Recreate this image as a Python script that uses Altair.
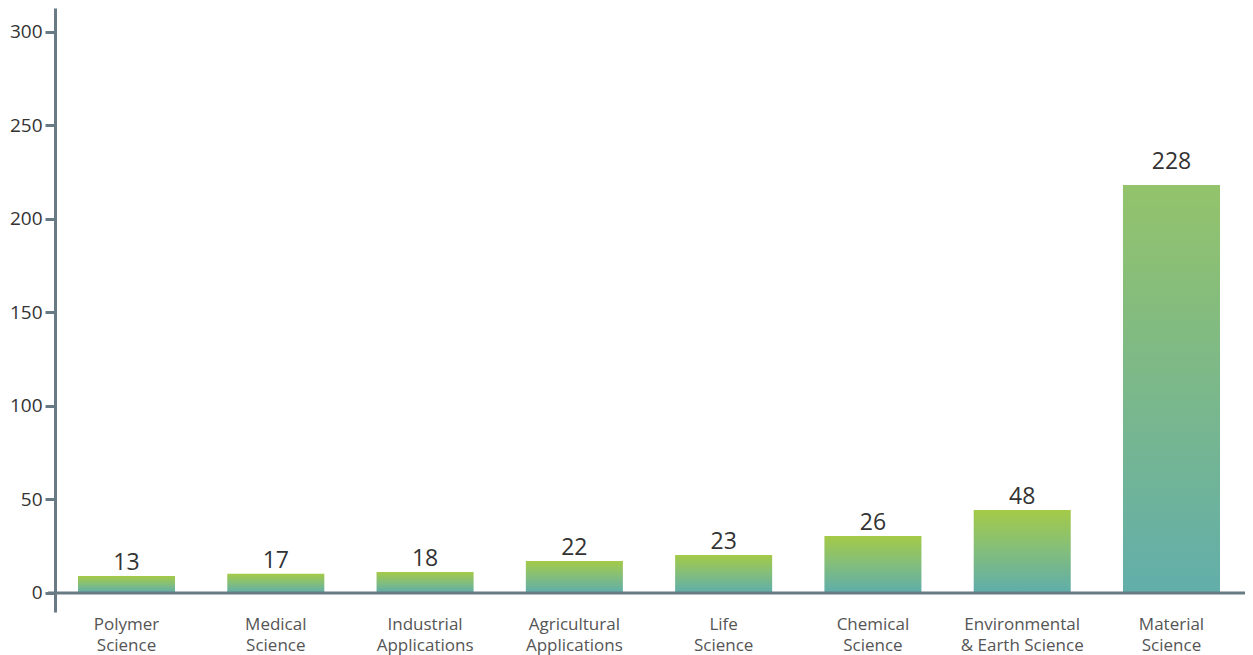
import altair as alt
import pandas as pd

categories = ["Polymer\nScience", "Medical\nScience", "Industrial\nApplications",
              "Agricultural\nApplications", "Life\nScience", "Chemical\nScience",
              "Environmental\n& Earth Science", "Material\nScience"]
bar_values = [9.1, 10.2, 11.2, 17.1, 20.3, 30.5, 44.4, 218.2]
label_texts = ["13", "17", "18", "22", "23", "26", "48", "228"]
y_ticks = [0, 50, 100, 150, 200, 250, 300]

df = pd.DataFrame({"cat": categories, "value": bar_values, "label": label_texts})
df["tall"] = df["value"] > 100

FONT = "Open Sans"
AXIS_COLOR = "#687a84"

x_scale = alt.Scale(paddingInner=0.35, paddingOuter=0.154, round=False)
x_enc = alt.X("cat:N", sort=categories, scale=x_scale,
              axis=alt.Axis(title=None, domain=False, ticks=False, labelAngle=0,
                            labelExpr="split(datum.label, '\\n')",
                            labelFont=FONT, labelFontSize=17, labelColor="#555555",
                            labelLineHeight=21, labelPadding=4, labelBaseline="top"))
y_scale = alt.Scale(domain=[-10.2, 312.8], nice=False, zero=False)

base = alt.Chart(df)

grad_small = alt.Gradient(gradient="linear", x1=0, x2=0, y1=0, y2=1,
                          stops=[alt.GradientStop(color="#a4ca47", offset=0),
                                 alt.GradientStop(color="#86bf77", offset=0.45),
                                 alt.GradientStop(color="#5eadac", offset=1)])
grad_tall = alt.Gradient(gradient="linear", x1=0, x2=0, y1=0, y2=1,
                         stops=[alt.GradientStop(color="#93c36a", offset=0),
                                alt.GradientStop(color="#7bb88a", offset=0.5),
                                alt.GradientStop(color="#62aeaa", offset=1)])

bars_small = base.transform_filter("!datum.tall").mark_bar(color=grad_small).encode(
    x=x_enc,
    y=alt.Y("value:Q", scale=y_scale,
            axis=alt.Axis(title=None, values=y_ticks, grid=False,
                          domainColor=AXIS_COLOR, domainWidth=3,
                          tickColor=AXIS_COLOR, tickWidth=3, tickSize=10,
                          labelFont=FONT, labelFontSize=19, labelColor="#333333",
                          labelPadding=3)),
    y2=alt.datum(0),
)
bars_tall = base.transform_filter("datum.tall").mark_bar(color=grad_tall).encode(
    x=alt.X("cat:N", sort=categories),
    y=alt.Y("value:Q", scale=y_scale),
    y2=alt.datum(0),
)

labels_small = base.transform_filter("!datum.tall").mark_text(
    font=FONT, fontSize=23, color="#333333", baseline="alphabetic", dy=-6).encode(
    x=alt.X("cat:N", sort=categories),
    y=alt.Y("value:Q", scale=y_scale),
    text="label:N",
)
labels_tall = base.transform_filter("datum.tall").mark_text(
    font=FONT, fontSize=23, color="#333333", baseline="alphabetic", dy=-16).encode(
    x=alt.X("cat:N", sort=categories),
    y=alt.Y("value:Q", scale=y_scale),
    text="label:N",
)

baseline = alt.Chart(pd.DataFrame({"z": [0]})).mark_rule(
    color=AXIS_COLOR, strokeWidth=3).encode(
    y=alt.Y("z:Q", scale=y_scale),
    x=alt.value(-7), x2=alt.value(1190),
)

chart = alt.layer(bars_small, bars_tall, labels_small, labels_tall, baseline).properties(
    width=1188, height=604,
    autosize=alt.AutoSizeParams(type="none"),
    padding={"left": 47, "top": 0, "right": 2, "bottom": 46},
).configure_view(stroke=None)

chart.save("out.html", embed_options={"renderer": "svg", "actions": False})
